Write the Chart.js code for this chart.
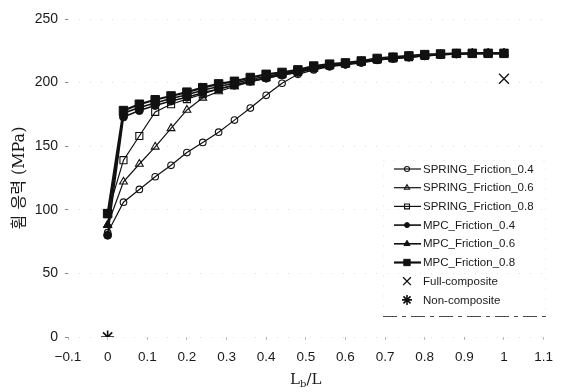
<!DOCTYPE html>
<html>
<head>
    <meta charset="utf-8">
    <title>Lb/L - bending stress</title>
    <style>
        body {
            margin: 0;
            padding: 0;
            background: #fff;
        }

        .wrap {
            width: 562px;
            height: 392px;
        }
    </style>
</head>
<body>
    <div class="wrap"><canvas id="chart" width="562" height="392"></canvas></div>

    <script src="https://cdn.jsdelivr.net/npm/chart.js"></script>
    <script>
        // Lb/L positions of the analysis points
        var ratios = [0, 0.04, 0.08, 0.12, 0.16, 0.20, 0.24, 0.28, 0.32, 0.36, 0.40, 0.44, 0.48,
                      0.52, 0.56, 0.60, 0.64, 0.68, 0.72, 0.76, 0.80, 0.84, 0.88, 0.92, 0.96, 1.00];

        // bending stress (MPa)
        var springF04 = [82, 106, 116, 126, 135, 145, 153, 161, 170.5, 180, 190, 199.5, 206.5,
                         210, 212.5, 214, 215.5, 217.5, 219, 220, 221, 222, 222.5, 223, 223, 223];
        var springF06 = [88, 122, 136, 149.5, 164, 178.5, 188, 193, 197, 200.5, 203.5, 206, 208,
                         211, 213, 214.5, 216, 218, 219, 220, 221, 222, 222.5, 223, 223, 223];
        var springF08 = [97, 139, 158, 177, 183, 187, 191, 195, 198, 201, 204, 206.5, 208.5,
                         211.5, 213.5, 215, 216.5, 218, 219, 220, 221, 222, 222.5, 223, 223, 223];
        var mpcF04 = [80, 173, 178, 182, 185.5, 188.5, 192, 195, 198, 201, 203.5, 206, 208,
                      211, 213, 214.5, 216, 218, 219, 220, 221, 222, 222.5, 223, 223, 223];
        var mpcF06 = [88, 176, 180.5, 184, 187.5, 190.5, 194, 197, 199.5, 202.5, 205, 207, 209,
                      212, 213.5, 215, 216.5, 218.5, 219.5, 220.5, 221.5, 222, 222.5, 223, 223, 223];
        var mpcF08 = [97, 178, 183, 186.5, 189.5, 192.5, 196, 199, 201, 204, 206.5, 208, 210,
                      213, 214.5, 215.5, 217, 219, 220, 221, 222, 222.5, 223, 223, 223, 223];

        var fullComposite = [{x: 1.0, y: 203}];
        var nonComposite = [{x: 0, y: 0}];

        var xTicks = [-0.1, 0, 0.1, 0.2, 0.3, 0.4, 0.5, 0.6, 0.7, 0.8, 0.9, 1, 1.1];
        var yTicks = [0, 50, 100, 150, 200, 250];

        var yTitle = '휨 응력 (MPa)';

        function pts(arr) {
            return ratios.map(function(r, i) {
                return {x: r, y: arr[i]};
            });
        }

        var ink = '#111';

        var datasets = [
            {label: 'SPRING_Friction_0.4', data: pts(springF04), pointStyle: 'circle', pointRadius: 3.3,
             borderWidth: 1.2, pointBorderWidth: 1.1, pointBackgroundColor: 'rgba(0,0,0,0)', order: 6},
            {label: 'SPRING_Friction_0.6', data: pts(springF06), pointStyle: 'triangle', pointRadius: 4.5,
             borderWidth: 1.2, pointBorderWidth: 1.1, pointBackgroundColor: 'rgba(0,0,0,0)', order: 5},
            {label: 'SPRING_Friction_0.8', data: pts(springF08), pointStyle: 'rect', pointRadius: 5,
             borderWidth: 1.2, pointBorderWidth: 1.1, pointBackgroundColor: 'rgba(0,0,0,0)', order: 4},
            {label: 'MPC_Friction_0.4', data: pts(mpcF04), pointStyle: 'circle', pointRadius: 4,
             borderWidth: 1.6, pointBorderWidth: 1, pointBackgroundColor: ink, order: 3},
            {label: 'MPC_Friction_0.6', data: pts(mpcF06), pointStyle: 'triangle', pointRadius: 5,
             borderWidth: 1.6, pointBorderWidth: 1, pointBackgroundColor: ink, order: 2},
            {label: 'MPC_Friction_0.8', data: pts(mpcF08), pointStyle: 'rect', pointRadius: 6,
             borderWidth: 2.2, pointBorderWidth: 1, pointBackgroundColor: ink, order: 1},
            {label: 'Full-composite', data: fullComposite, pointStyle: 'crossRot', pointRadius: 7,
             showLine: false, pointBorderWidth: 1.3, order: 0},
            {label: 'Non-composite', data: nonComposite, pointStyle: 'star', pointRadius: 6.5,
             showLine: false, pointBorderWidth: 1.6, order: 0}
        ];
        datasets.forEach(function(d) {
            d.borderColor = ink;
            d.pointBorderColor = ink;
            d.backgroundColor = ink;
            d.fill = false;
            d.tension = 0;
        });

        function fmtTick(v) {
            var s = String(Math.round(v * 10) / 10);
            return s.replace('-', '\u2212');
        }

        // legend drawn inside the plot area, lower right
        var boxLegend = {
            id: 'boxLegend',
            afterDraw: function(chart) {
                var ctx = chart.ctx;
                ctx.save();

                // faded frame of the scanned legend box
                ctx.strokeStyle = 'rgba(0,0,0,0.12)';
                ctx.lineWidth = 1;
                ctx.setLineDash([1, 9]);
                ctx.strokeRect(383.5, 160.5, 162, 156);
                ctx.strokeStyle = 'rgba(0,0,0,0.7)';
                ctx.setLineDash([14, 5, 4, 5]);
                ctx.beginPath();
                ctx.moveTo(383, 316.5);
                ctx.lineTo(546, 316.5);
                ctx.stroke();
                ctx.setLineDash([]);

                ctx.font = '11.5px "Liberation Sans", Arial, sans-serif';
                ctx.textBaseline = 'middle';
                ctx.textAlign = 'left';
                var y0 = 169, step = 18.7;
                chart.data.datasets.forEach(function(d, i) {
                    var y = y0 + i * step;
                    ctx.strokeStyle = ink;
                    if (d.showLine !== false) {
                        ctx.lineWidth = d.borderWidth;
                        ctx.beginPath();
                        ctx.moveTo(394, y);
                        ctx.lineTo(421, y);
                        ctx.stroke();
                    }
                    ctx.fillStyle = d.pointBackgroundColor || 'rgba(0,0,0,0)';
                    ctx.lineWidth = d.pointBorderWidth;
                    Chart.helpers.drawPoint(ctx, {
                        pointStyle: d.pointStyle,
                        radius: Math.max(d.pointRadius - 1.5, 2.5),
                        rotation: 0,
                        borderWidth: d.pointBorderWidth
                    }, 407, y);
                    ctx.fillStyle = '#1a1a1a';
                    ctx.fillText(d.label, 423, y + 0.5);
                });

                // x axis title L_b / L
                var a = chart.chartArea;
                var big = '15px "DejaVu Serif", serif';
                var small = '10px "DejaVu Serif", serif';
                ctx.font = big;
                var wL = ctx.measureText('L').width;
                var wRest = ctx.measureText('/L').width;
                ctx.font = small;
                var wB = ctx.measureText('b').width;
                var x = (a.left + a.right) / 2 - (wL + wB + wRest) / 2;
                var ty = 379;
                ctx.fillStyle = '#1a1a1a';
                ctx.textBaseline = 'alphabetic';
                ctx.font = big;
                ctx.fillText('L', x, ty + 5);
                ctx.font = small;
                ctx.fillText('b', x + wL, ty + 8);
                ctx.font = big;
                ctx.fillText('/L', x + wL + wB, ty + 5);

                ctx.restore();
            }
        };

        new Chart(document.getElementById('chart'), {
            type: 'line',
            data: {datasets: datasets},
            plugins: [boxLegend],
            options: {
                responsive: false,
                animation: false,
                layout: {padding: {top: 19, right: 16, left: 0, bottom: 0}},
                plugins: {
                    legend: {display: false},
                    tooltip: {enabled: false}
                },
                scales: {
                    x: {
                        type: 'linear',
                        min: xTicks[0],
                        max: xTicks[xTicks.length - 1],
                        afterBuildTicks: function(scale) {
                            scale.ticks = xTicks.map(function(v) { return {value: v}; });
                        },
                        afterFit: function(scale) { scale.height = 55; },
                        border: {display: false},
                        grid: {drawOnChartArea: false, drawTicks: true, tickLength: 3, tickColor: '#bbb'},
                        ticks: {
                            color: '#1a1a1a',
                            padding: 9,
                            maxRotation: 0,
                            font: {family: '"Liberation Sans", Arial, sans-serif', size: 13.5},
                            callback: fmtTick
                        }
                    },
                    y: {
                        min: yTicks[0],
                        max: yTicks[yTicks.length - 1],
                        afterBuildTicks: function(scale) {
                            scale.ticks = yTicks.map(function(v) { return {value: v}; });
                        },
                        afterFit: function(scale) { scale.width = 68; },
                        border: {display: false, dash: [1, 10]},
                        grid: {color: 'rgba(0,0,0,0.13)', tickLength: 3, tickColor: '#888'},
                        ticks: {
                            color: '#1a1a1a',
                            padding: 7,
                            font: {family: '"Liberation Sans", Arial, sans-serif', size: 14}
                        },
                        title: {
                            display: true,
                            text: yTitle,
                            color: '#1a1a1a',
                            padding: {top: 10, bottom: 0},
                            font: {family: '"DejaVu Serif", "Noto Sans CJK KR", serif', size: 16}
                        }
                    }
                }
            }
        });
    </script>
</body>
</html>
